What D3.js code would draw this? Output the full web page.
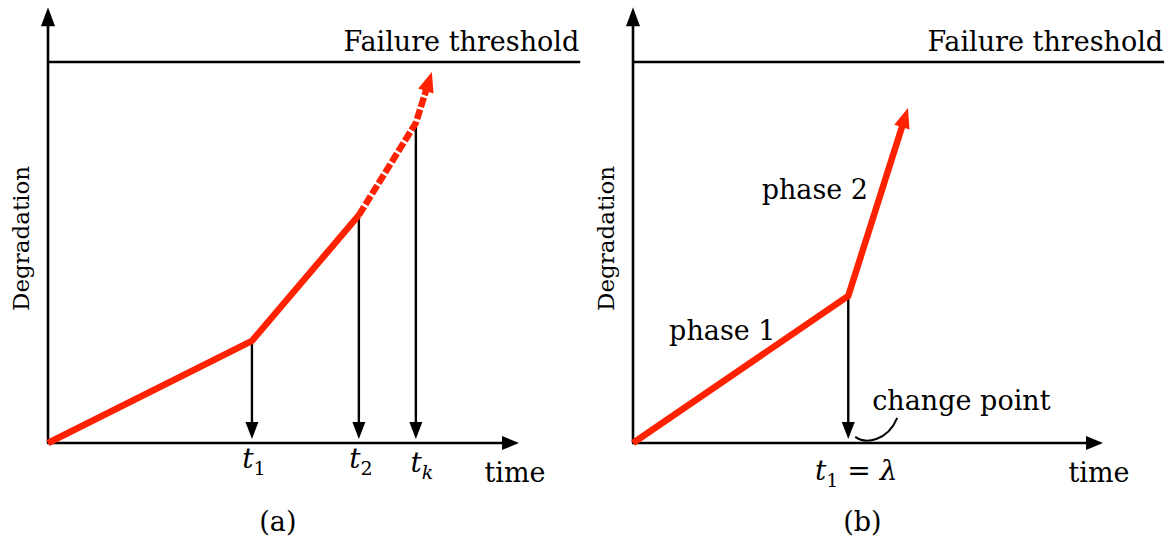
<!DOCTYPE html>
<html>
<head>
<meta charset="utf-8">
<script src="https://cdn.jsdelivr.net/npm/d3@7"></script>
<style>
  html, body { margin: 0; padding: 0; background: #ffffff; }
  svg { display: block; }
  text { font-family: "DejaVu Serif", "Liberation Serif", serif; fill: #000; }
</style>
</head>
<body>
<svg id="chart" width="1170" height="552"></svg>
<script>
// ---- data (normalised units: time 0..1 along the axis, degradation 0..1 up to the failure threshold) ----
const inspectionTimes = [0, 0.433, 0.660, 0.781, 0.815];
const degradationA    = [0, 0.268, 0.598, 0.840, 0.974];
const inspectionLabels = [
  { main: "t", sub: "1", subItalic: false },
  { main: "t", sub: "2", subItalic: false },
  { main: "t", sub: "k", subItalic: true }
];

const phaseTimes    = [0, 0.458, 0.585];
const degradationB  = [0, 0.386, 0.879];
const phaseLabels   = ["phase 1", "phase 2"];

const failureThreshold = 1.0;
const axisTop = 1.144;      // degradation value at the tip of the vertical axis
const thresholdEnd = 1.13;  // time value where the threshold line stops

const RED = "#ff2200";
const FS = 27;              // main label size
const svg = d3.select("#chart");

// shared vertical scale for both panels
const y = d3.scaleLinear().domain([0, failureThreshold]).range([443, 62]);

// filled arrow head with its tip at `to`, pointing away from `from`; returns the base centre
function arrowHead(g, from, to, len, half, color) {
  const dx = to[0] - from[0], dy = to[1] - from[1];
  const d = Math.hypot(dx, dy), ux = dx / d, uy = dy / d;
  const bx = to[0] - ux * len, by = to[1] - uy * len;
  g.append("path")
    .attr("d", `M${to[0]},${to[1]}L${bx - uy * half},${by + ux * half}L${bx + uy * half},${by - ux * half}Z`)
    .attr("fill", color);
  return [to[0] - ux * (len - 2), to[1] - uy * (len - 2)];
}

function drawAxes(g, x, caption) {
  const o = [x(0), y(0)];
  // vertical axis
  const yTip = [x(0), y(axisTop)];
  const yb = arrowHead(g, o, yTip, 19, 7, "#000");
  g.append("line").attr("x1", o[0]).attr("y1", o[1]).attr("x2", yb[0]).attr("y2", yb[1])
    .attr("stroke", "#000").attr("stroke-width", 2.6);
  // horizontal axis
  const xTip = [x(1), y(0)];
  const xb = arrowHead(g, o, xTip, 17, 7, "#000");
  g.append("line").attr("x1", o[0] - 1).attr("y1", o[1]).attr("x2", xb[0]).attr("y2", xb[1])
    .attr("stroke", "#000").attr("stroke-width", 2.6);
  // failure threshold
  g.append("line")
    .attr("x1", x(0) - 1).attr("y1", y(failureThreshold))
    .attr("x2", x(thresholdEnd)).attr("y2", y(failureThreshold))
    .attr("stroke", "#000").attr("stroke-width", 2.6);
  g.append("text")
    .attr("x", x(thresholdEnd) - 1).attr("y", y(failureThreshold) - 11)
    .attr("text-anchor", "end").attr("font-size", FS)
    .text("Failure threshold");
  // axis titles
  g.append("text")
    .attr("transform", `translate(${x(0) - 19},${y(0.537)}) rotate(-90)`)
    .attr("text-anchor", "middle").attr("font-size", 23)
    .text("Degradation");
  g.append("text")
    .attr("x", x(1) - 4).attr("y", y(0) + 39)
    .attr("text-anchor", "middle").attr("font-size", FS)
    .text("time");
  // panel caption
  g.append("text")
    .attr("x", x(0.488)).attr("y", y(0) + 88)
    .attr("text-anchor", "middle").attr("font-size", FS)
    .text(caption);
}

function dropArrow(g, x, t, d) {
  const top = [x(t), y(d)];
  const tip = [x(t), y(0) - 4];
  const b = arrowHead(g, top, tip, 17, 6.5, "#000");
  g.append("line").attr("x1", top[0]).attr("y1", top[1]).attr("x2", b[0]).attr("y2", b[1])
    .attr("stroke", "#000").attr("stroke-width", 2.4);
}

// ---------- panel (a): inspections ----------
{
  const x = d3.scaleLinear().domain([0, 1]).range([48, 519]);
  const g = svg.append("g");
  drawAxes(g, x, "(a)");

  const pts = inspectionTimes.map((t, i) => [x(t), y(degradationA[i])]);
  // drop lines from each inspection to the time axis
  for (let i = 1; i <= 3; i++) dropArrow(g, x, inspectionTimes[i], degradationA[i]);

  const line = d3.line();
  g.append("path").attr("d", line(pts.slice(0, 3)))
    .attr("fill", "none").attr("stroke", RED).attr("stroke-width", 6.5)
    .attr("stroke-linejoin", "miter");
  const dashed = pts.slice(2);
  const headBase = arrowHead(g, dashed[dashed.length - 2], dashed[dashed.length - 1], 20, 8, RED);
  dashed[dashed.length - 1] = headBase;
  g.append("path").attr("d", line(dashed))
    .attr("fill", "none").attr("stroke", RED).attr("stroke-width", 6.5)
    .attr("stroke-dasharray", "10,2.5").attr("stroke-linejoin", "miter");

  // inspection time labels
  inspectionLabels.forEach((lab, i) => {
    const t = g.append("text")
      .attr("x", x(inspectionTimes[i + 1]) + (lab.subItalic ? 6 : 2))
      .attr("y", y(0) + (lab.subItalic ? 29 : 25))
      .attr("text-anchor", "middle").attr("font-size", 28);
    t.append("tspan").attr("font-style", "italic").text(lab.main);
    t.append("tspan").attr("font-size", 19).attr("dy", 7)
      .attr("font-style", lab.subItalic ? "italic" : "normal").text(lab.sub);
  });
}

// ---------- panel (b): two-phase degradation ----------
{
  const x = d3.scaleLinear().domain([0, 1]).range([633, 1103]);
  const g = svg.append("g");
  drawAxes(g, x, "(b)");

  const pts = phaseTimes.map((t, i) => [x(t), y(degradationB[i])]);
  dropArrow(g, x, phaseTimes[1], degradationB[1]);

  const headBase = arrowHead(g, pts[1], pts[2], 20, 8, RED);
  const shortened = pts.slice(0, 2).concat([headBase]);
  g.append("path").attr("d", d3.line()(shortened))
    .attr("fill", "none").attr("stroke", RED).attr("stroke-width", 6.5)
    .attr("stroke-linejoin", "miter");

  // phase labels
  g.append("text").attr("x", x(0.19)).attr("y", y(0.271))
    .attr("text-anchor", "middle").attr("font-size", FS).text(phaseLabels[0]);
  g.append("text").attr("x", x(0.387)).attr("y", y(0.640))
    .attr("text-anchor", "middle").attr("font-size", FS).text(phaseLabels[1]);

  // change point annotation with a curved leader
  const cp = phaseTimes[1];
  g.append("text").attr("x", x(cp) + 24).attr("y", y(0.087))
    .attr("font-size", FS).text("change point");
  const p = d3.path();
  p.moveTo(x(cp) + 7, y(0.016));
  p.bezierCurveTo(x(cp) + 17, y(-0.003), x(cp) + 39, y(0.004), x(cp) + 49, y(0.066));
  g.append("path").attr("d", p.toString())
    .attr("fill", "none").attr("stroke", "#000").attr("stroke-width", 2);

  const lab = g.append("text").attr("x", x(cp) + 8).attr("y", y(0) + 37)
    .attr("text-anchor", "middle").attr("font-size", 28);
  lab.append("tspan").attr("font-style", "italic").text("t");
  lab.append("tspan").attr("font-size", 19).attr("dy", 7).text("1");
  lab.append("tspan").attr("dy", -7).text(" = ");
  lab.append("tspan").attr("font-style", "italic").text("λ");
}
</script>
</body>
</html>
